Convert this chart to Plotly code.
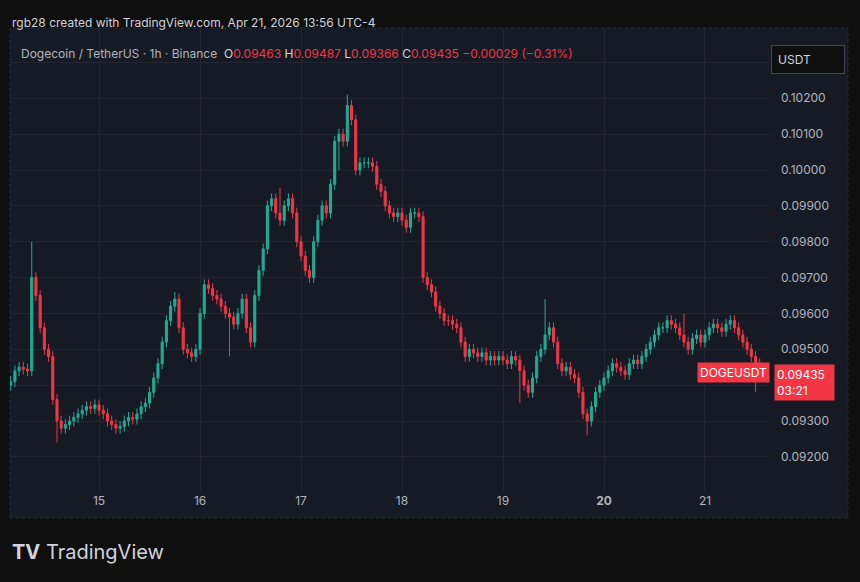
import plotly.graph_objects as go
import pandas as pd

start = "2026-04-14 03:00"
closes = [
 9410, 9440, 9450, 9445, 9440, 9700, 9650, 9560, 9500, 9480, 9360, 9300, 9280, 9290, 9300, 9310, 9320, 9330, 9340, 9335, 9345,
 9330, 9320, 9300, 9290, 9280, 9285, 9300, 9310, 9305, 9320, 9340, 9350, 9380, 9420, 9460, 9520, 9580, 9620, 9640, 9560, 9500, 9490, 9480, 9500,
 9600, 9680, 9670, 9650, 9640, 9620, 9600, 9590, 9570, 9600, 9640, 9560, 9520, 9650, 9720, 9780, 9900, 9920, 9880, 9860, 9900, 9920, 9880, 9800,
 9760, 9720, 9700, 9800, 9860, 9900, 9880, 9960, 10080, 10100, 10080, 10180, 10140, 10000, 10020, 10020, 10020, 10010, 9960, 9940, 9900, 9880, 9870, 9880,
 9860, 9840, 9880, 9880, 9870, 9700, 9680, 9660, 9620, 9600, 9580, 9580, 9570, 9560, 9520, 9480, 9500, 9490, 9480, 9490, 9470, 9480, 9470, 9480,
 9470, 9460, 9480, 9470, 9440, 9400, 9380, 9420, 9480, 9500, 9540, 9560, 9520, 9460, 9440, 9450, 9430, 9420, 9380, 9320, 9300, 9340, 9380, 9400,
 9420, 9440, 9460, 9450, 9440, 9430, 9460, 9470, 9460, 9480, 9500, 9520, 9540, 9560, 9560, 9580, 9570, 9560, 9540, 9520, 9500, 9530, 9540, 9520,
 9540, 9560, 9570, 9560, 9550, 9570, 9580, 9560, 9540, 9520, 9500, 9480, 9460, 9435,
]
first_open = 9400
spike_highs = {5: 9800, 64: 9950, 80: 10210, 127: 9640, 160: 9600, 39: 9660}
spike_lows = {11: 9240, 52: 9480, 78: 10000, 137: 9260, 177: 9380, 121: 9350}
wick = 15

opens = [first_open] + closes[:-1]
highs, lows = [], []
for i, (o, c) in enumerate(zip(opens, closes)):
    highs.append(spike_highs.get(i, max(o, c) + wick))
    lows.append(spike_lows.get(i, min(o, c) - wick))
sc = lambda a: [v / 1e5 for v in a]
times = pd.date_range(start, periods=len(closes), freq="h")

UP, DN = "#22ab94", "#f23645"
BG = "#161a25"
fig = go.Figure(go.Candlestick(
    x=times, open=sc(opens), high=sc(highs), low=sc(lows), close=sc(closes),
    increasing=dict(line=dict(color=UP, width=1), fillcolor=UP),
    decreasing=dict(line=dict(color=DN, width=1), fillcolor=DN),
    whiskerwidth=0, showlegend=False))

last = closes[-1] / 1e5
fig.add_hline(y=last, line=dict(color=DN, width=1, dash="dot"))

ticks = pd.date_range("2026-04-15", "2026-04-21", freq="D")
labels = ["15", "16", "17", "18", "19", "<b>20</b>", "21"]
yt = [0.092 + 0.001 * k for k in range(12)]
fig.update_layout(
    width=860, height=582, margin=dict(l=0, r=0, t=0, b=0, autoexpand=False),
    paper_bgcolor="#0f0f0f", plot_bgcolor=BG,
    font=dict(family="Inter, Roboto, sans-serif", color="#b2b5be", size=12),
    xaxis=dict(domain=[10/860, 770/860], range=["2026-04-14 02:50", "2026-04-21 15:27"],
               rangeslider=dict(visible=False), tickvals=ticks, ticktext=labels,
               gridcolor="#232632", showline=False, zeroline=False, ticks="", automargin=False),
    yaxis=dict(domain=[1-492/582, 1-28/582], range=[0.09102, 0.10396], side="right",
               tickvals=yt, tickformat=".5f", gridcolor="#232632", zeroline=False, ticks="",
               ticklabelstandoff=10, automargin=False),
    shapes=[dict(type="rect", xref="paper", yref="paper", x0=10/860, x1=848/860,
                 y0=1-518/582, y1=1-28/582, line=dict(color="#2a2e39", width=1),
                 fillcolor=BG, layer="below")],
)
fig.add_annotation(x=0.012, y=1-13/582, xref="paper", yref="paper", showarrow=False,
                   xanchor="left", text="rgb28 created with TradingView.com, Apr 21, 2026 13:56 UTC-4",
                   font=dict(color="#d1d4dc", size=12))
fig.add_annotation(x=0.022, y=1-44/582, xref="paper", yref="paper", showarrow=False, xanchor="left",
                   text=("<span style='color:#b2b5be'>Dogecoin / TetherUS · 1h · Binance</span>  <span style='color:#d1d4dc'>O</span>0.09463 "
                         "<span style='color:#d1d4dc'>H</span>0.09487 <span style='color:#d1d4dc'>L</span>0.09366 "
                         "<span style='color:#d1d4dc'>C</span>0.09435 −0.00029 (−0.31%)"),
                   font=dict(color=DN, size=12))
fig.add_annotation(x=845/860, y=1-45/582, xref="paper", yref="paper", showarrow=False, xanchor="right",
                   text="USDT        ", bgcolor="#0f0f0f", bordercolor="#434651", borderpad=6,
                   font=dict(color="#d1d4dc", size=12))
fig.add_annotation(x=770/860, y=last, xref="paper", yref="y", showarrow=False, xanchor="right",
                   text="DOGEUSDT", bgcolor=DN, font=dict(color="white", size=12), borderpad=2)
fig.add_annotation(x=774/860, y=last, xref="paper", yref="y", showarrow=False, xanchor="left",
                   yanchor="top", yshift=9, align="left",
                   text="0.09435  <br>03:21", bgcolor=DN, font=dict(color="white", size=12), borderpad=2)
fig.add_annotation(x=0.012, y=1-552/582, xref="paper", yref="paper", showarrow=False, xanchor="left",
                   yanchor="middle", text="<b>TV</b> TradingView", font=dict(color="#d1d4dc", size=20))
fig.write_html("out.html", config={"displayModeBar": False})
with open("out.html") as f:
    html = f.read()
html = html.replace("<body>", "<body style='margin:0;background:#0f0f0f'>", 1)
with open("out.html", "w") as f:
    f.write(html)
